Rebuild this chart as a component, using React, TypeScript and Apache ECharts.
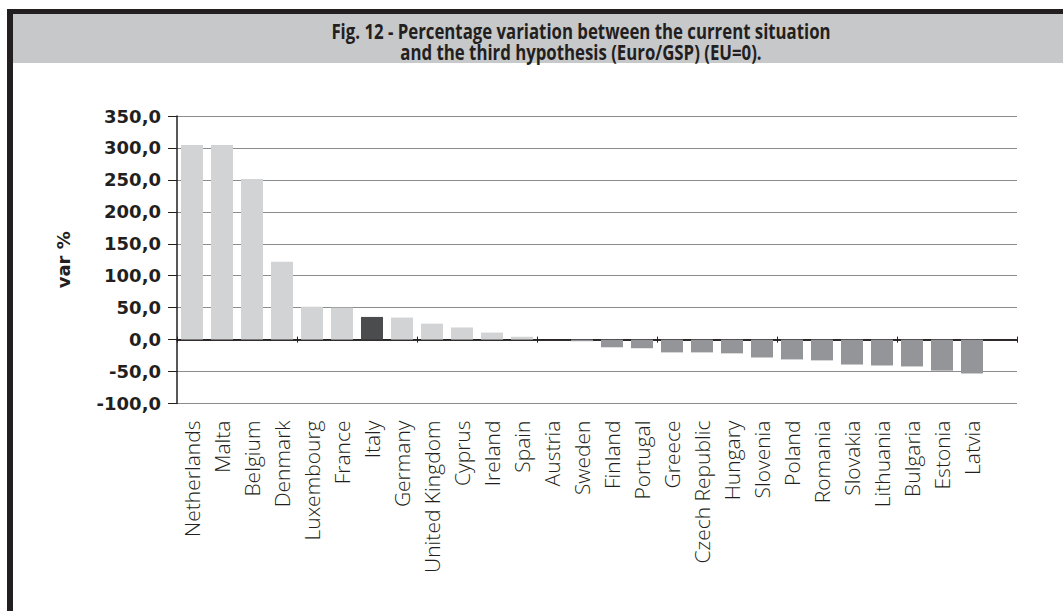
import React, { useEffect, useRef } from "react";
import * as echarts from "echarts";

// Countries ordered by variation (the trailing empty slot keeps the grid running past Latvia)
const countries = [
  "Netherlands", "Malta", "Belgium", "Denmark", "Luxembourg", "France", "Italy",
  "Germany", "United Kingdom", "Cyprus", "Ireland", "Spain", "Austria", "Sweden",
  "Finland", "Portugal", "Greece", "Czech Republic", "Hungary", "Slovenia", "Poland",
  "Romania", "Slovakia", "Lithuania", "Bulgaria", "Estonia", "Latvia", "",
];

// Percentage variation (var %)
const variation = [
  304.5, 304.5, 251.5, 122, 51.5, 50, 35.5,
  34.5, 25, 19, 11, 4.5, 0, -2.5,
  -12, -13.5, -20, -20, -21.5, -28, -31,
  -32.5, -39, -40.5, -42, -48.5, -53, null,
];

const highlighted = "Italy";

const yTicks = { min: -100, max: 350, interval: 50 };

const titleLines = [
  "Fig. 12 - Percentage variation between the current situation",
  "and the third hypothesis (Euro/GSP) (EU=0).",
];

const INK = "#231f20";
const POSITIVE = "#d1d3d4";
const NEGATIVE = "#939598";
const ITALY = "#4b4c4e";

export default function App() {
  const ref = useRef<HTMLDivElement>(null);

  useEffect(() => {
    if (!ref.current) return;
    const chart = echarts.init(ref.current, null, { renderer: "svg" });

    const barData = countries.map((c, i) => {
      const v = variation[i];
      const color = c === highlighted ? ITALY : v != null && v < 0 ? NEGATIVE : POSITIVE;
      return { value: v, itemStyle: { color } };
    });

    const fmt = (v: number) => v.toFixed(1).replace(".", ",");

    chart.setOption({
      animation: false,
      backgroundColor: "#ffffff",
      graphic: [
        { type: "rect", shape: { x: 7, y: 9, width: 1056, height: 5 }, style: { fill: INK } },
        { type: "rect", shape: { x: 7, y: 9, width: 6, height: 602 }, style: { fill: INK } },
        { type: "rect", shape: { x: 13, y: 14, width: 1050, height: 49 }, style: { fill: "#c7c8ca" } },
        {
          type: "text",
          x: 581,
          y: 21,
          scaleX: 0.8,
          style: {
            text: titleLines.join("\n"),
            align: "center",
            verticalAlign: "top",
            lineHeight: 21,
            fontSize: 21,
            fontWeight: "bold",
            fontFamily: "'Open Sans', sans-serif",
            fill: INK,
          },
        },
      ],
      grid: { left: 177, right: 46, top: 116, bottom: 207.5, containLabel: false },
      xAxis: [
        {
          type: "category",
          data: countries,
          gridIndex: 0,
          position: "bottom",
          axisLine: { show: false, onZero: false },
          axisTick: { show: false },
          axisLabel: {
            interval: 0,
            rotate: 90,
            margin: 17,
            fontSize: 21,
            fontWeight: 300,
            fontFamily: "'Open Sans', sans-serif",
            color: INK,
          },
          splitLine: { show: false },
        },
        {
          type: "category",
          data: countries,
          gridIndex: 0,
          axisLine: { show: true, onZero: true, onZeroAxisIndex: 0, lineStyle: { color: INK, width: 1.5 } },
          axisTick: { show: true, length: 3, lineStyle: { color: INK, width: 1 } },
          axisLabel: { show: false },
          splitLine: { show: false },
        },
        {
          type: "category",
          data: countries,
          gridIndex: 0,
          axisLine: { show: true, onZero: true, onZeroAxisIndex: 0, lineStyle: { color: INK, width: 1.5 } },
          axisTick: { show: true, inside: true, length: 3, lineStyle: { color: INK, width: 1 } },
          axisLabel: { show: false },
          splitLine: { show: false },
        },
      ],
      yAxis: {
        type: "value",
        min: yTicks.min,
        max: yTicks.max,
        interval: yTicks.interval,
        name: "var %",
        nameLocation: "middle",
        nameGap: 105,
        nameRotate: 90,
        nameTextStyle: {
          fontSize: 18,
          fontWeight: "bold",
          fontFamily: "'DejaVu Sans', sans-serif",
          color: INK,
        },
        axisLine: { show: true, lineStyle: { color: INK, width: 1.5 } },
        axisTick: { show: true, length: 9, lineStyle: { color: INK, width: 1 } },
        axisLabel: {
          margin: 16,
          formatter: fmt,
          fontSize: 18,
          fontWeight: "bold",
          fontFamily: "'DejaVu Sans', sans-serif",
          color: INK,
        },
        splitLine: { show: true, lineStyle: { color: "#8c8c8c", width: 1 } },
      },
      series: [
        {
          type: "bar",
          xAxisIndex: 0,
          yAxisIndex: 0,
          data: barData,
          barWidth: 22,
          z: 1,
        },
      ],
    });

    return () => chart.dispose();
  }, []);

  return (
    <div
      ref={ref}
      style={{ position: "absolute", left: 0, top: 0, width: 1063, height: 611 }}
    />
  );
}
